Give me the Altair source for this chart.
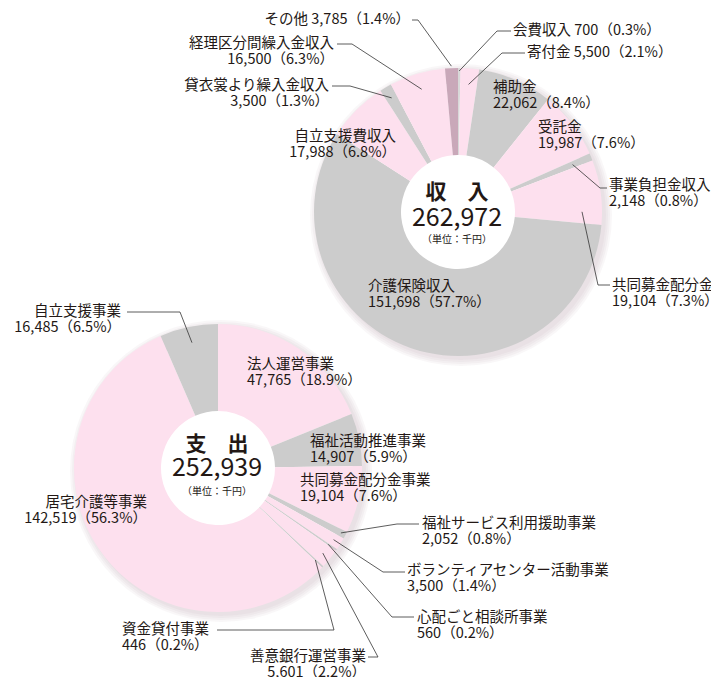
import altair as alt
import pandas as pd
import numpy as np

# ---------------- data ----------------
inc_names = ["会費収入", "寄付金", "補助金", "受託金", "事業負担金収入", "共同募金配分金",
             "介護保険収入", "自立支援費収入", "貸衣裳より繰入金収入", "経理区分間繰入金収入", "その他"]
inc_values = [700, 5500, 22062, 19987, 2148, 19104, 151698, 17988, 3500, 16500, 3785]
inc_pcts = ["0.3", "2.1", "8.4", "7.6", "0.8", "7.3", "57.7", "6.8", "1.3", "6.3", "1.4"]
inc_title = "収　入"
inc_total = "262,972"

exp_names = ["法人運営事業", "福祉活動推進事業", "共同募金配分金事業", "福祉サービス利用援助事業",
             "ボランティアセンター活動事業", "心配ごと相談所事業", "善意銀行運営事業", "資金貸付事業",
             "居宅介護等事業", "自立支援事業"]
exp_values = [47765, 14907, 19104, 2052, 3500, 560, 5601, 446, 142519, 16485]
exp_pcts = ["18.9", "5.9", "7.6", "0.8", "1.4", "0.2", "2.2", "0.2", "56.3", "6.5"]
exp_title = "支　出"
exp_total = "252,939"

unit_label = "（単位：千円）"

# ---------------- style / layout ----------------
W, H, M = 703, 669, 8
FONT = "Noto Sans CJK JP"
TXT = "#231815"
PINK, GREY, MAUVE, LGREY = "#fde0ee", "#cccccc", "#c9a8b9", "#d8d8d8"
inc_colors = [LGREY, PINK, GREY, PINK, GREY, PINK, GREY, PINK, GREY, PINK, MAUVE]
exp_colors = [PINK, GREY, PINK, GREY, PINK, GREY, PINK, GREY, PINK, GREY]
INC_C = (458, 212)
EXP_C = (218, 468)
R_OUT, R_IN = 144, 57
LBL_SIZE = 14.5
LINE_GAP = 16

# name: (x, y, align, one_line, leader)  leader = (fraction in slice, radius, [elbow, end])
inc_layout = {
    "会費収入": (513, 31, "left", True, (0.5, 141, [(497, 31), (511, 31)])),
    "寄付金": (527, 53, "left", True, (0.5, 128, [(502, 53), (525, 53)])),
    "補助金": (493, 88, "left", False, None),
    "受託金": (538, 128, "left", False, None),
    "事業負担金収入": (609, 186, "left", False, (0.5, 124, [(600, 188), (607, 188)])),
    "共同募金配分金": (612, 286, "left", False, (0.8, 124, [(598, 285), (610, 285)])),
    "介護保険収入": (368, 287, "left", False, None),
    "自立支援費収入": (396, 137, "right", False, None),
    "貸衣裳より繰入金収入": (329, 86, "right", False, (0.5, 132, [(350, 86), (332, 86)])),
    "経理区分間繰入金収入": (334, 44, "right", False, (0.5, 128, [(352, 44), (337, 44)])),
    "その他": (410, 20, "right", True, (0.5, 146, [(418, 20), (412, 20)])),
}
exp_layout = {
    "法人運営事業": (247, 365, "left", False, None),
    "福祉活動推進事業": (310, 442, "left", False, None),
    "共同募金配分金事業": (300, 481, "left", False, None),
    "福祉サービス利用援助事業": (422, 524, "left", False, (0.5, 139, [(397, 524), (419, 524)])),
    "ボランティアセンター活動事業": (407, 571, "left", False, (0.5, 136, [(383, 572), (405, 572)])),
    "心配ごと相談所事業": (417, 618, "left", False, (0.5, 134, [(392, 617), (414, 617)])),
    "善意銀行運営事業": (366, 657, "right", False, (0.5, 135, [(378, 657), (368, 657)])),
    "資金貸付事業": (122, 630, "left", False, (0.5, 134, [(334, 630), (217, 630)])),
    "居宅介護等事業": (147, 503, "right", False, None),
    "自立支援事業": (121, 312, "right", False, (0.5, 128, [(180, 312), (127, 312)])),
}


def build(names, values, pcts, layout, center):
    labels, lines = [], []
    cum = np.concatenate([[0], np.cumsum(values)])
    tot = cum[-1]
    for i, n in enumerate(names):
        x, y, align, one, leader = layout[n]
        v = f"{values[i]:,}（{pcts[i]}%）"
        t1, t2 = (f"{n} {v}", "") if one else (n, v)
        labels.append(dict(t1=t1, t2=t2, x=x, y=y, align=align))
        if leader:
            frac, r, pts = leader
            a = 2 * np.pi * (cum[i] + frac * values[i]) / tot
            ax = center[0] + r * np.sin(a)
            ay = center[1] - r * np.cos(a)
            for k, (px, py) in enumerate([(ax, ay)] + pts):
                lines.append(dict(id=n, k=k, x=px, y=py))
    return labels, lines


il, ilines = build(inc_names, inc_values, inc_pcts, inc_layout, INC_C)
el, elines = build(exp_names, exp_values, exp_pcts, exp_layout, EXP_C)
labels_df = pd.DataFrame(il + el)
lines_df = pd.DataFrame(ilines + elines)

inc_df = pd.DataFrame({"name": inc_names, "value": inc_values, "i": range(len(inc_names))})
exp_df = pd.DataFrame({"name": exp_names, "value": exp_values, "i": range(len(exp_names))})

center_df = pd.DataFrame([
    dict(t=inc_title, kind="title", x=INC_C[0] - 1, y=193, fs=21),
    dict(t=inc_total, kind="num", x=INC_C[0] - 1, y=218, fs=25),
    dict(t=unit_label, kind="num", x=INC_C[0] - 1, y=240, fs=10),
    dict(t=exp_title, kind="title", x=EXP_C[0] - 1, y=445, fs=21),
    dict(t=exp_total, kind="num", x=EXP_C[0] - 1, y=468, fs=25),
    dict(t=unit_label, kind="num", x=EXP_C[0] - 1, y=492, fs=10),
])

xs = alt.Scale(domain=[M, M + W], nice=False, zero=False)
ys = alt.Scale(domain=[M, M + H], nice=False, zero=False, reverse=True)
X = alt.X("x:Q", scale=xs, axis=None)
Y = alt.Y("y:Q", scale=ys, axis=None)


def shadows(center):
    one = pd.DataFrame({"v": [1]})
    out = []
    for d in [7, 5, 3, 1]:
        out.append(alt.Chart(one).mark_arc(theta=0, theta2=2 * np.pi, outerRadius=R_OUT + d,
                                           innerRadius=R_OUT - 12, color="#b898a8", opacity=0.08)
                   .encode(x=alt.value(center[0] - M + 3), y=alt.value(center[1] - M + 3)))
    return out


def donut(df, center, names, colors):
    return alt.Chart(df).mark_arc(outerRadius=R_OUT, innerRadius=R_IN).encode(
        x=alt.value(center[0] - M), y=alt.value(center[1] - M),
        theta=alt.Theta("value:Q", stack=True),
        order=alt.Order("i:Q"),
        color=alt.Color("name:N", scale=alt.Scale(domain=names, range=colors), legend=None),
    )


def text_layer(field, align, dy):
    return alt.Chart(labels_df).transform_filter(alt.datum.align == align).mark_text(
        align=align, baseline="middle", fontSize=LBL_SIZE, font=FONT, color=TXT, dy=dy
    ).encode(x=X, y=Y, text=f"{field}:N")


leaders = alt.Chart(lines_df).mark_line(color="#333333", strokeWidth=0.8).encode(
    x=X, y=Y, detail="id:N", order="k:Q")

titles = alt.Chart(center_df).transform_filter(alt.datum.kind == "title").mark_text(
    font=FONT, fontWeight="bold", color=TXT, baseline="middle", align="center", fontSize=21
).encode(x=X, y=Y, text="t:N")
nums = alt.Chart(center_df).transform_filter(alt.datum.kind == "num").mark_text(
    font=FONT, color=TXT, baseline="middle", align="center"
).encode(x=X, y=Y, text="t:N", size=alt.Size("fs:Q", scale=None))

layers = (shadows(INC_C) + shadows(EXP_C)
          + [donut(exp_df, EXP_C, exp_names, exp_colors), donut(inc_df, INC_C, inc_names, inc_colors)]
          + [leaders,
             text_layer("t1", "left", 0), text_layer("t2", "left", LINE_GAP),
             text_layer("t1", "right", 0), text_layer("t2", "right", LINE_GAP),
             titles, nums])

chart = alt.layer(*layers).properties(
    width=W, height=H, padding=0, autosize="none"
).resolve_scale(theta="independent", color="independent").configure_view(stroke=None)

chart.save("out.html", embed_options={"renderer": "svg", "actions": False})
